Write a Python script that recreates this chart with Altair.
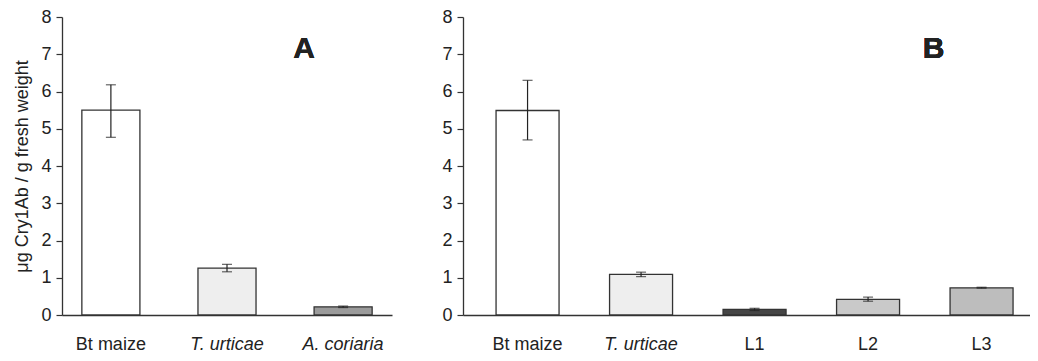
import altair as alt
import pandas as pd

# Panel A data
a_cats = ["Bt maize", "T. urticae", "A. coriaria"]
a_means = [5.50, 1.26, 0.22]
a_lo = [4.77, 1.16, 0.20]
a_hi = [6.18, 1.36, 0.24]

# Panel B data
b_cats = ["Bt maize", "T. urticae", "L1", "L2", "L3"]
b_means = [5.49, 1.09, 0.15, 0.42, 0.73]
b_lo = [4.70, 1.03, 0.12, 0.37, 0.72]
b_hi = [6.30, 1.15, 0.18, 0.48, 0.745]

y_ticks = [0, 1, 2, 3, 4, 5, 6, 7, 8]

FONT = "Liberation Sans"
INK = "#222222"

italic_test = "datum.value == 'T. urticae' || datum.value == 'A. coriaria'"


def panel(cats, means, lo, hi, fills, width, height, pi, po, align,
          letter, letter_anchor, letter_dx, ytitle):
    df = pd.DataFrame({"cat": cats, "mean": means, "lo": lo, "hi": hi})
    xscale = alt.Scale(domain=cats, paddingInner=pi, paddingOuter=po, align=align)
    xaxis = alt.Axis(
        title=None, ticks=False, labelAngle=0, labelPadding=20,
        labelFontSize=18, labelFont=FONT, labelColor=INK,
        domainColor="#333333", domainWidth=1.3,
        labelFontStyle={"condition": {"test": italic_test, "value": "italic"}, "value": "normal"},
    )
    yaxis_kw = dict(
        values=y_ticks, tickCount=9, labelOverlap=False, grid=False, tickSize=6,
        tickColor="#333333", tickWidth=1.2,
        domainColor="#333333", domainWidth=1.3, labelFontSize=18, labelFont=FONT,
        labelColor=INK, labelPadding=5,
    )
    if ytitle:
        yaxis = alt.Axis(title=ytitle, titleFont=FONT, titleFontSize=18,
                         titleFontWeight="normal", titleColor=INK, titlePadding=9,
                         **yaxis_kw)
    else:
        yaxis = alt.Axis(title=None, **yaxis_kw)
    yscale = alt.Scale(domain=[0, 8], nice=False)

    x = alt.X("cat:N", scale=xscale, sort=cats, axis=xaxis)
    bars = alt.Chart(df).mark_bar(stroke="#333333", strokeWidth=1.3).encode(
        x=x,
        y=alt.Y("mean:Q", scale=yscale, axis=yaxis),
        fill=alt.Fill("cat:N", scale=alt.Scale(domain=cats, range=fills), legend=None),
    )
    rule = alt.Chart(df).mark_rule(color=INK, strokeWidth=1.2).encode(
        x=x,
        y=alt.Y("lo:Q", scale=yscale, axis=yaxis),
        y2="hi:Q",
    )
    cap_lo = alt.Chart(df).mark_tick(color=INK, size=10, thickness=1.2).encode(
        x=x, y=alt.Y("lo:Q", scale=yscale, axis=yaxis)
    )
    cap_hi = alt.Chart(df).mark_tick(color=INK, size=10, thickness=1.2).encode(
        x=x, y=alt.Y("hi:Q", scale=yscale, axis=yaxis)
    )
    label = alt.Chart(df).mark_text(
        text=letter, fontSize=30, fontWeight="bold", font=FONT, color=INK,
        baseline="alphabetic", align="center", dx=letter_dx,
    ).encode(
        x=alt.datum(letter_anchor),
        y=alt.datum(6.9),
    )
    return alt.layer(bars, rule, cap_lo, cap_hi, label).properties(
        width=width, height=height
    )


pa = panel(a_cats, a_means, a_lo, a_hi,
           ["#ffffff", "#eeeeee", "#9b9b9b"],
           330, 298, 0.5, 0.171, 0.5, "A", "A. coriaria", -39,
           "μg Cry1Ab / g fresh weight")
pb = panel(b_cats, b_means, b_lo, b_hi,
           ["#ffffff", "#eeeeee", "#454545", "#c9c9c9", "#bdbdbd"],
           575, 298, 0.445, 0.2555, 0.57, "B", "L3", -48, None)

chart = alt.hconcat(pa, pb, spacing=71, bounds="flush").resolve_scale(
    fill="independent", x="independent", y="independent"
).properties(
    padding={"left": 5, "top": 0, "right": -8, "bottom": 0}
).configure_view(stroke=None)

chart.save("out.html", embed_options={"renderer": "svg", "actions": False})
